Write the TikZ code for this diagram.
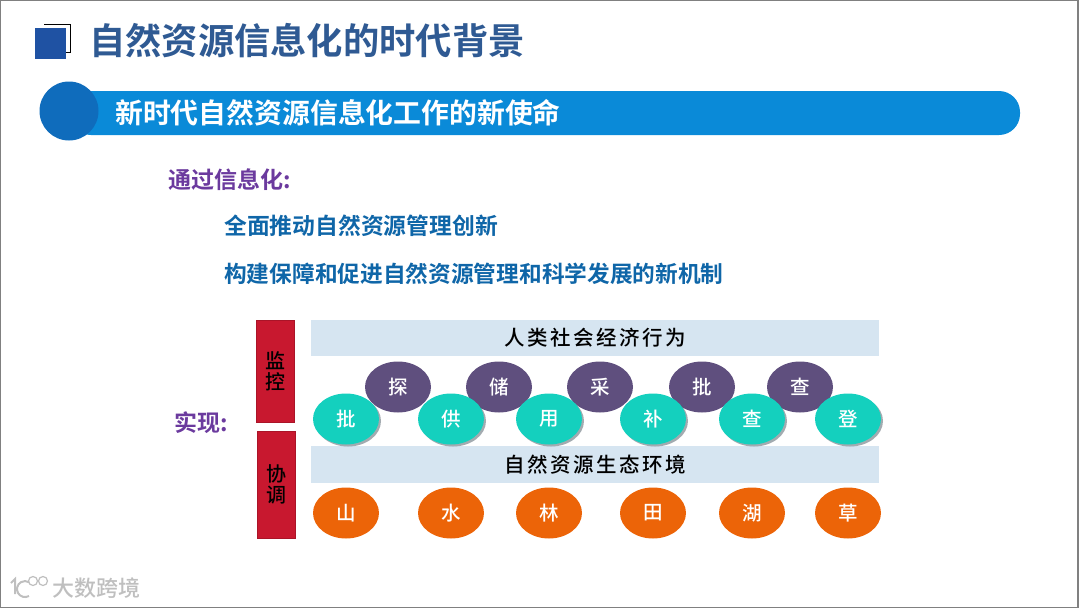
\documentclass[tikz,border=0pt]{standalone}
\usepackage{fontspec}
\setmainfont{Noto Sans CJK SC}[BoldFont={Noto Sans CJK SC Bold}]
\newfontfamily\medfont{Noto Sans CJK SC Medium}
\newfontfamily\medwide{Noto Sans CJK SC Medium}[LetterSpace=12]
\usetikzlibrary{shadows,shapes.geometric}
\definecolor{titleblue}{HTML}{2F5A93}
\definecolor{squareblue}{HTML}{1F52A3}
\definecolor{barblue}{HTML}{0A8AD8}
\definecolor{discblue}{HTML}{0F6CBC}
\definecolor{textblue}{HTML}{0F66A8}
\definecolor{textpurple}{HTML}{6B3A9E}
\definecolor{paleblue}{HTML}{D6E5F1}
\definecolor{stripred}{HTML}{C8182F}
\definecolor{tealball}{HTML}{14D0BE}
\definecolor{plumball}{HTML}{5F4F7E}
\definecolor{orangeball}{HTML}{EC6408}
\tikzset{
    ball/.style={ellipse,minimum width=66pt,minimum height=51pt,inner sep=0pt,text=white,font=\medfont\fontsize{19.5}{19.5}\selectfont},
    tealnode/.style={ball,fill=tealball,drop shadow={shadow xshift=2pt,shadow yshift=-2pt,opacity=.5,fill=black!70!cyan}},
    plumnode/.style={ball,fill=plumball},
    orangenode/.style={ball,fill=orangeball},
    paleband/.style={fill=paleblue,minimum width=568pt,minimum height=36pt,inner sep=0pt,font=\medwide\fontsize{20.5}{20.5}\selectfont},
    redstrip/.style={fill=stripred,draw=stripred!85!black,line width=.5pt,minimum width=38pt,inner sep=0pt,align=center,font=\medfont\fontsize{20}{21}\selectfont},
    bodytext/.style={anchor=west,inner sep=0pt,text=textblue,font=\bfseries\fontsize{22.8}{22.8}\selectfont},
    purpletext/.style={anchor=west,inner sep=0pt,text=textpurple,font=\bfseries\fontsize{23}{23}\selectfont},
}
\begin{document}
\begin{tikzpicture}[x=1pt,y=-1pt]
    \useasboundingbox (0,0) rectangle (1080,608);
    \draw [gray,line width=1.2pt] (0.5,0.5) rectangle (1078,607.5);

    % heading
    \draw [black,line width=.8pt] (44,24.5) -- (70,24.5) -- (70,52) -- (66,52);
    \fill [squareblue] (35,28) rectangle (66,59);
    \node (heading) [anchor=west,inner sep=0pt,text=titleblue,font=\bfseries\fontsize{36.3}{36.3}\selectfont] at (89,41) {自然资源信息化的时代背景};

    % banner
    \fill [barblue,rounded corners=21pt] (70,91) rectangle (1020,135);
    \fill [discblue] (69,111) circle (29.5);
    \node (banner) [anchor=west,inner sep=0pt,text=white,font=\bfseries\fontsize{27.85}{27.85}\selectfont] at (115,113) {新时代自然资源信息化工作的新使命};

    % body
    \node (via) [purpletext] at (168.5,180) {通过信息化:};
    \node (lineone) [bodytext] at (224,226) {全面推动自然资源管理创新};
    \node (linetwo) [bodytext,font=\bfseries\fontsize{22.7}{22.7}\selectfont] at (224,274) {构建保障和促进自然资源管理和科学发展的新机制};
    \node (realize) [purpletext] at (174.5,423) {实现:};

    % diagram
    \node (monitor) [redstrip,minimum height=102pt] at (275,371) {监\\控};
    \node (coord) [redstrip,minimum height=107pt] at (276,484.5) {协\\调};
    \node (human) [paleband] at (595,338) {人类社会经济行为};
    \node (nature) [paleband,minimum height=37pt] at (595,464.5) {自然资源生态环境};

    \foreach \x/\t/\n in {398/探/a,499/储/b,600/采/c,702/批/d,800/查/e}
        \node (plum\n) [plumnode] at (\x,387) {\t};
    \foreach \x/\t/\n in {346/批/a,451/供/b,549/用/c,653/补/d,752/查/e,848/登/f}
        \node (teal\n) [tealnode] at (\x,419) {\t};
    \foreach \x/\t/\n in {346/山/a,451/水/b,549/林/c,653/田/d,752/湖/e,848/草/f}
        \node (orange\n) [orangenode] at (\x,513) {\t};

    % watermark
    \node (mark) [anchor=west,inner sep=0pt,text=black!25,font=\medfont\fontsize{22}{22}\selectfont] at (52,588) {大数跨境};
    \draw [black!25,line width=2pt] (11,583) -- (15,579) -- (15,594);
    \draw [black!25,line width=2pt] (29,596) arc (60:300:8);
    \draw [black!25,line width=1.2pt] (33,581) circle (4.5) (43,581) circle (4.5);
\end{tikzpicture}
\end{document}
